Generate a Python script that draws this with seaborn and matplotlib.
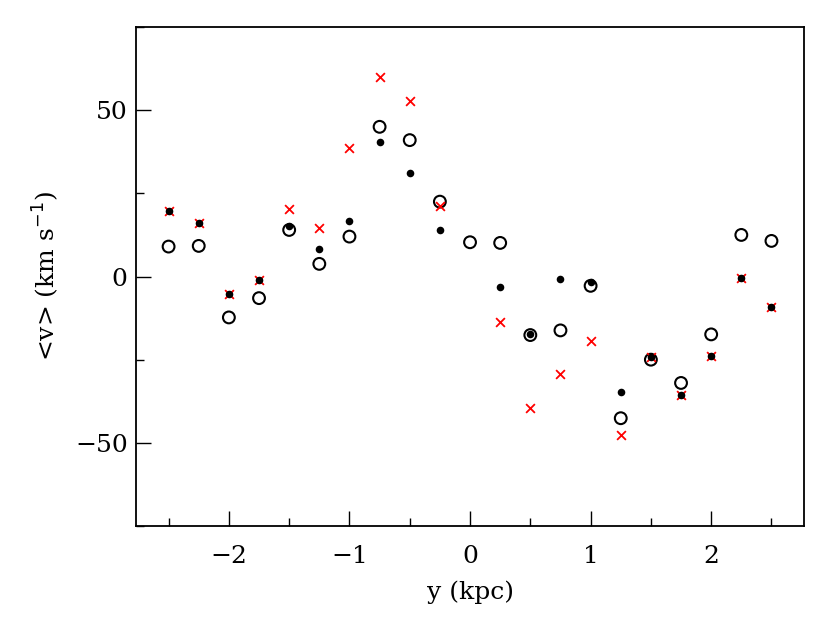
import numpy as np
import pandas as pd
import matplotlib
matplotlib.use("Agg")
import matplotlib.pyplot as plt
import seaborn as sns
from matplotlib.ticker import MultipleLocator

# bin centres along y (kpc)
y_kpc = [-2.5, -2.25, -2.0, -1.75, -1.5, -1.25, -1.0, -0.75, -0.5, -0.25, 0.0,
         0.25, 0.5, 0.75, 1.0, 1.25, 1.5, 1.75, 2.0, 2.25, 2.5]

# open circles
v_open = [9.0, 9.2, -12.3, -6.5, 14.0, 3.8, 12.0, 45.0, 41.0, 22.5, 10.3,
          10.1, -17.6, -16.2, -2.8, -42.6, -25.0, -32.0, -17.4, 12.5, 10.7]
# filled dots
v_dot = [19.8, 16.1, -5.4, -0.9, 15.2, 8.4, 16.6, 40.3, 31.0, 14.1, np.nan,
         -3.1, -17.2, -0.7, -1.7, -34.8, -24.3, -35.6, -23.9, -0.4, -9.3]
# red crosses
v_cross = [19.8, 16.1, -5.4, -0.9, 20.4, 14.5, 38.7, 59.9, 52.8, 21.3, np.nan,
           -13.6, -39.6, -29.2, -19.4, -47.5, -24.3, -35.6, -23.9, -0.4, -9.3]

df = pd.DataFrame({"y": y_kpc, "open": v_open, "dot": v_dot, "cross": v_cross})

sns.set_style("ticks")
plt.rcParams["font.family"] = ["DejaVu Serif", "DejaVu Sans"]
plt.rcParams["axes.unicode_minus"] = True
plt.rcParams["xtick.direction"] = "in"
plt.rcParams["ytick.direction"] = "in"

fig = plt.figure(figsize=(8.3, 6.17), dpi=100)
ax = fig.add_axes([0.1639, 0.1475, 0.8048, 0.8087])

sns.scatterplot(data=df, x="y", y="open", ax=ax, marker="o", s=72,
                facecolor="none", edgecolor="black", linewidth=1.5, zorder=2)
sns.scatterplot(data=df.dropna(), x="y", y="cross", ax=ax, marker="x", s=40,
                color="red", linewidth=1.3, zorder=3)
sns.scatterplot(data=df.dropna(), x="y", y="dot", ax=ax, marker="o", s=30,
                color="black", edgecolor="black", linewidth=0, zorder=4)

ax.set_xlim(-2.77, 2.77)
ax.set_ylim(-75, 75)
ax.xaxis.set_major_locator(MultipleLocator(1))
ax.xaxis.set_minor_locator(MultipleLocator(0.5))
ax.yaxis.set_major_locator(MultipleLocator(50))
ax.yaxis.set_minor_locator(MultipleLocator(25))
ax.tick_params(which="both", direction="in", top=False, right=False,
               labelsize=18, colors="black")
ax.tick_params(axis="x", which="both", pad=14)
ax.tick_params(axis="y", which="both", pad=6)
ax.tick_params(which="major", length=11, width=1.0)
ax.tick_params(which="minor", length=6, width=1.0)
for sp in ax.spines.values():
    sp.set_linewidth(1.3)
    sp.set_color("black")

ax.set_xlabel("y (kpc)", fontsize=18, labelpad=9, color="black")
ax.set_ylabel(r"<v> (km s$^{-1}$)", fontsize=18, labelpad=10, color="black")

fig.savefig("out.png", dpi=100)
